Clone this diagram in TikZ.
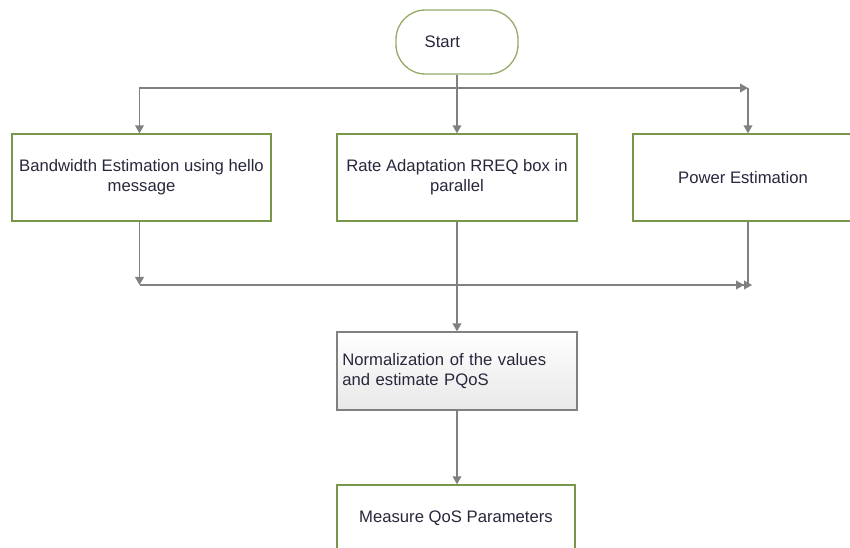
\documentclass[tikz,border=0pt]{standalone}
\usepackage{fontspec}
\setmainfont{Liberation Sans}
\usepackage{xcolor}
\usepackage{tikz}
\usetikzlibrary{arrows.meta,positioning,calc}

\definecolor{boxgreen}{RGB}{122,150,72}
\definecolor{startgreen}{RGB}{150,172,105}
\definecolor{linegray}{RGB}{128,128,128}
\definecolor{txtdark}{RGB}{40,40,60}

\begin{document}
\begin{tikzpicture}[
  x=0.75pt, y=-0.75pt,
  font=\fontsize{12.5}{15}\selectfont, text=txtdark,
  blk/.style={draw=boxgreen, line width=1pt, fill=white, align=center, inner sep=3pt},
  startbox/.style={blk, draw=startgreen, rounded corners=22pt, minimum width=91.5pt, minimum height=48pt},
  proc/.style={blk, minimum height=65.25pt},
  normbox/.style={draw=linegray, line width=0.9pt, top color=white, bottom color=black!9, align=left, text width=172pt, inner sep=4pt, minimum height=58.5pt},
  conn/.style={draw=linegray, line width=1.1pt},
  arr/.style={conn, -{Triangle[length=6pt, width=6.5pt]}},
  darr/.style={conn, -{Triangle[length=6pt, width=6.5pt]Triangle[length=6pt, width=6.5pt]}}]
\useasboundingbox (0,0) rectangle (850,548);
% ---------------- start ----------------
\node[startbox] (start) at (457,42) {\hspace*{-22pt}Start};
% ---------------- three estimations ----------------
\node[proc, minimum width=194.25pt] (bw) at (141.5,177.5) {Bandwidth Estimation using hello\\message};
\node[proc, minimum width=180pt]    (ra) at (457,177.5)   {Rate Adaptation RREQ box in\\parallel};
\node[proc, minimum width=165pt]    (pw) at (743,177.5)   {Power Estimation};
% ---------------- normalization and measure ----------------
\node[normbox] (norm) at (457,371) {Normalization of the values\\and estimate PQoS};
\node[proc, minimum width=178.5pt, minimum height=50.25pt] (meas) at (456,518.5) {Measure QoS Parameters};
% ---------------- split and join points ----------------
\coordinate (topr) at (748,88);
\coordinate (botr) at (752,285);
% ---------------- connections ----------------
\draw[conn] (start.south) -- (start.south |- topr);
\draw[arr] (start.south |- topr) -| ([xshift=-1.5]bw.north);
\draw[arr] (start.south |- topr) -- (topr);
\draw[arr] (topr) -- (topr |- pw.north);
\draw[arr] (start) -- (ra);
\draw[arr] ([xshift=-1.5]bw.south) -- ([xshift=-1.5]bw.south |- botr);
\draw[darr] ([xshift=-1.5]bw.south |- botr) -- (botr);
\draw[conn] (topr |- pw.south) -- (topr |- botr);
\draw[arr] (ra) -- (norm);
\draw[arr] (norm.south) -- (norm.south |- meas.north);
\end{tikzpicture}
\end{document}
